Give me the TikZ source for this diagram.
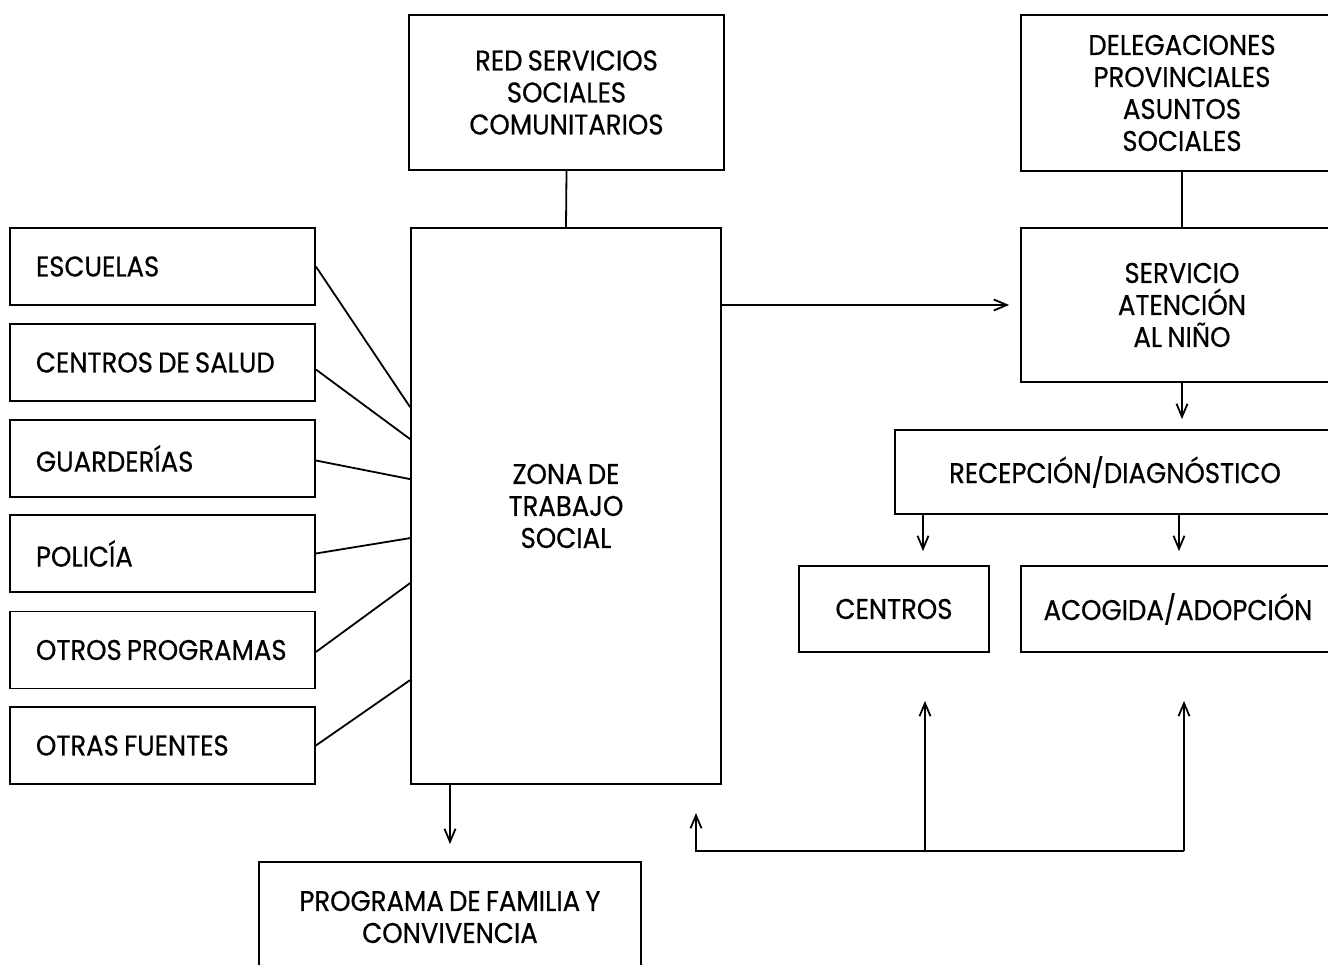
\documentclass[tikz,border=0pt]{standalone}
\usepackage{fontspec}
\setmainfont{Poppins}[FakeStretch=0.91,WordSpace=0.75,FakeBold=0.5]
\usetikzlibrary{arrows.meta,calc}
\newcommand\diafont{\fontsize{28.5}{32}\selectfont}
\newcommand\lefttext[1]{\makebox[253pt][l]{#1}}
\begin{document}
\begin{tikzpicture}[x=1pt,y=-1pt,
  box/.style={draw,line width=1.8pt,inner sep=0pt,align=center,font=\diafont},
  lbox/.style={box,minimum width=305pt,minimum height=77pt,inner xsep=26pt},
  conn/.style={line width=1.8pt},
  arr/.style={conn,-{Straight Barb[length=13pt,width=11pt]}}]
\useasboundingbox (0,0) rectangle (1328,965);
\clip (0,0) rectangle (1328,965);
\fill[white] (0,0) rectangle (1328,965);

% top boxes
\node[box,minimum width=315pt,minimum height=155pt] (red) at (566.5,92.5) {RED SERVICIOS\\SOCIALES\\COMUNITARIOS};
\node[box,minimum width=322pt,minimum height=156pt] (deleg) at (1182,93) {DELEGACIONES\\PROVINCIALES\\ASUNTOS\\SOCIALES};

% centre
\node[box,minimum width=310pt,minimum height=556pt] (zona) at (566,506) {ZONA DE\\TRABAJO\\SOCIAL};

% left sources
\node[lbox] (esc) at (162.5,266.5) {\lefttext{ESCUELAS}};
\node[lbox] (sal) at (162.5,362.5) {\lefttext{CENTROS DE SALUD}};
\node[lbox] (gua) at (162.5,458.5) {\lefttext{GUARDERÍAS}};
\node[lbox] (pol) at (162.5,553.5) {\lefttext{POLICÍA}};
\node[lbox] (otp) at (162.5,650) {\lefttext{OTROS PROGRAMAS}};
\node[lbox] (otf) at (162.5,745.5) {\lefttext{OTRAS FUENTES}};

% right column
\node[box,minimum width=322pt,minimum height=154pt] (serv) at (1182,305) {SERVICIO\\ATENCIÓN\\AL NIÑO};
\node[box,minimum width=440pt,minimum height=84pt] (recep) at (1115,472) {RECEPCIÓN/DIAGNÓSTICO};
\node[box,minimum width=190pt,minimum height=86pt] (cen) at (894,609) {CENTROS};
\node[box,minimum width=314pt,minimum height=86pt] (acog) at (1178,609) {ACOGIDA/ADOPCIÓN};

% bottom
\node[box,minimum width=382pt,minimum height=110pt] (prog) at (450,917) {PROGRAMA DE FAMILIA Y\\CONVIVENCIA};

% attach points on zona's west side
\coordinate (z1) at ($(zona.north west)+(0,180)$);
\coordinate (z2) at ($(zona.north west)+(0,212)$);
\coordinate (z3) at ($(zona.north west)+(0,252)$);
\coordinate (z4) at ($(zona.north west)+(0,311)$);
\coordinate (z5) at ($(zona.north west)+(0,356)$);
\coordinate (z6) at ($(zona.north west)+(0,453)$);

\draw[conn] (esc.east) -- (z1);
\draw[conn] ($(sal.east)+(0,7)$) -- (z2);
\draw[conn] ($(gua.east)+(0,2)$) -- (z3);
\draw[conn] (pol.east) -- (z4);
\draw[conn] ($(otp.east)+(0,2)$) -- (z5);
\draw[conn] (otf.east) -- (z6);

\draw[conn] (red.south) -- (zona.north);
\draw[conn] (deleg.south) -- (serv.north);
\draw[arr,shorten >=11pt] (zona.east |- serv.west) -- (serv.west);
\draw[arr,shorten >=10pt] (serv.south) -- (serv.south |- recep.north);

\coordinate (c1) at ($(cen.north)+(29,0)$);
\coordinate (c2) at ($(acog.north)+(1,0)$);
\draw[arr,shorten >=14pt] (c1 |- recep.south) -- (c1);
\draw[arr,shorten >=14pt] (c2 |- recep.south) -- (c2);

\draw[arr,shorten >=17pt] (prog.north |- zona.south) -- (prog.north);

\coordinate (b0) at (696,851);
\coordinate (b1) at (925,851);
\coordinate (b2) at (1184,851);
\coordinate (t0) at (696,813);
\draw[arr,shorten >=48pt] (b1) -- (b1 |- cen.south);
\draw[arr,shorten >=48pt] (b2) -- (b2 |- acog.south);
\draw[arr] (b2) -- (b0) -- (t0);
\end{tikzpicture}
\end{document}
